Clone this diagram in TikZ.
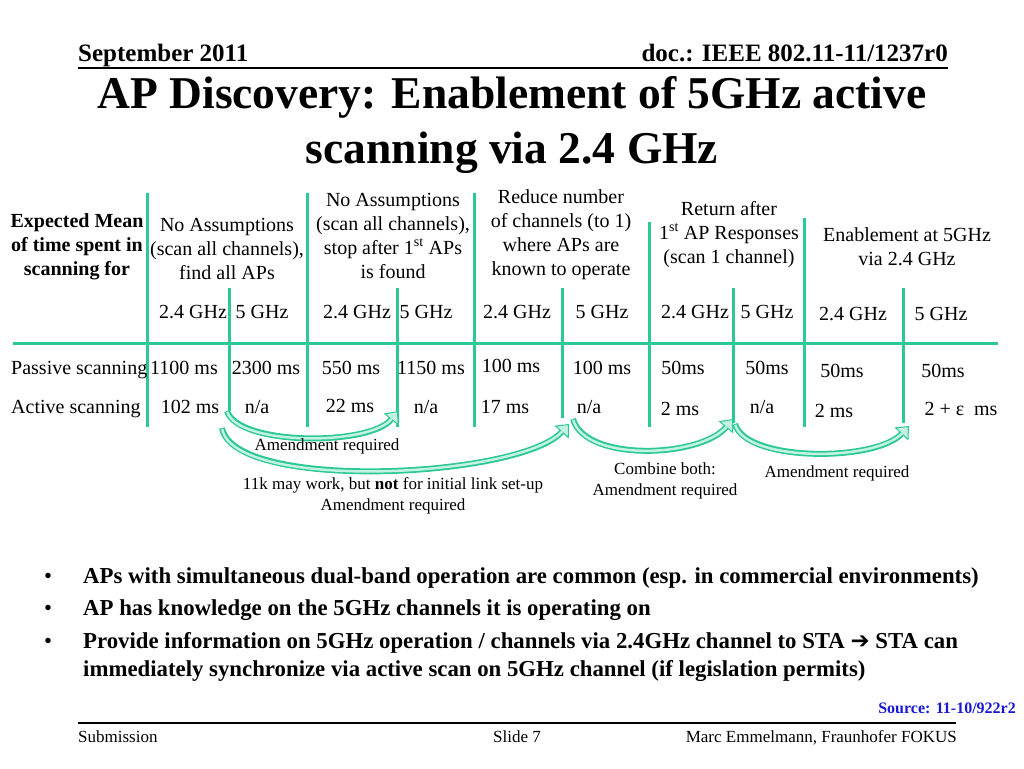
\documentclass[tikz,border=0pt]{standalone}
\usepackage{fontspec}
\setmainfont{Liberation Serif}
\newfontfamily\arrowfont{DejaVu Sans}
\usetikzlibrary{arrows.meta,positioning,calc}
\definecolor{scangreen}{RGB}{44,200,150}
\definecolor{mint}{RGB}{196,242,224}
\definecolor{srcblue}{RGB}{24,24,214}
\tikzset{
    gridline/.style={line width=3pt, scangreen},
    cell/.style={inner sep=0pt, anchor=base, font=\fontsize{20}{24}\selectfont},
    head/.style={cell, align=center},
    note/.style={inner sep=0pt, anchor=base, align=center, font=\fontsize{17}{21}\selectfont},
    band/.style={line width=6pt, scangreen, -{Triangle[length=11pt,width=19pt,fill=mint,line width=1pt]}},
    bandin/.style={line width=2.5pt, mint, shorten >=10pt, shorten <=1pt},
    slidetext/.style={inner sep=0pt, font=\fontsize{17}{20}\selectfont},
}

\begin{document}
\begin{tikzpicture}[x=1pt,y=-1pt]
    \useasboundingbox (0,0) rectangle (1024,768);

    % Slide header.
    \node[slidetext, anchor=base west, font=\bfseries\fontsize{25}{28}\selectfont] (date) at (78,62) {September 2011};
    \node[slidetext, anchor=base east, font=\bfseries\fontsize{25}{28}\selectfont] (doc) at (948,62) {doc.: IEEE 802.11-11/1237r0};
    \draw[line width=1.5pt] (78,68) -- (948,68);
    \node[inner sep=0pt, anchor=base, align=center, font=\bfseries\fontsize{45.5}{55}\selectfont] (title) at (512,163)
        {AP Discovery: Enablement of 5GHz active\\scanning via 2.4 GHz};

    % Draw table grid.
    \draw[gridline] (13,343) -- (998,343);
    \foreach \x/\t in {147/193, 307/193, 474/193, 649/222, 804/218}
        \draw[gridline] (\x,\t) -- (\x,427);
    \foreach \x/\b [count=\i] in {229/411, 397/427, 562/418, 733/423, 903/423}
        \draw[gridline] (\x,288) -- (\x,\b) coordinate (s\i);

    % Column headers (base is the last line).
    \node[head, font=\bfseries\fontsize{20}{24}\selectfont] (expect) at (77,275) {Expected Mean\\of time spent in\\scanning for};
    \node[head] (h1) at (227,279) {No Assumptions\\(scan all channels),\\find all APs};
    \node[head] (h2) at (393,278) {No Assumptions\\(scan all channels),\\stop after 1\textsuperscript{st} APs\\is found};
    \node[head] (h3) at (561,275) {Reduce number\\of channels (to 1)\\where APs are\\known to operate};
    \node[head] (h4) at (729,263) {Return after\\1\textsuperscript{st} AP Responses\\(scan 1 channel)};
    \node[head] (h5) at (907,265) {Enablement at 5GHz\\via 2.4 GHz};

    % Bands.
    \foreach \x/\y/\f [count=\i] in {193/318/2.4 GHz, 262/318/5 GHz, 357/318/2.4 GHz, 426/318/5 GHz,
        517/318/2.4 GHz, 602/318/5 GHz, 695/318/2.4 GHz, 767/318/5 GHz, 853/320/2.4 GHz, 941/320/5 GHz}
        \node[cell] (f\i) at (\x,\y) {\f};

    % Passive scanning row.
    \node[cell, anchor=base west] (passive) at (11,374) {Passive scanning};
    \foreach \x/\y/\v [count=\i] in {184/374/1100 ms, 266/374/2300 ms, 351/374/550 ms, 431/374/1150 ms,
        511/372/100 ms, 602/374/100 ms, 683/374/50ms, 767/374/50ms, 842/377/50ms, 943/377/50ms}
        \node[cell] (p\i) at (\x,\y) {\v};

    % Active scanning row.
    \node[cell, anchor=base west] (active) at (11,413) {Active scanning};
    \foreach \x/\y/\v [count=\i] in {190/413/102 ms, 257/413/{n/a}, 350/412/22 ms, 426/413/{n/a},
        505/413/17 ms, 589/413/{n/a}, 680/415/2 ms, 762/413/{n/a}, 834/417/2 ms, 961/415/2 + ε\ \ ms}
        \node[cell] (a\i) at (\x,\y) {\v};

    % Curved arrows between the columns.
    \coordinate (c1s) at (227,411);
    \coordinate (c1e) at (398,411);
    \coordinate (c2s) at (222,428);
    \coordinate (c2e) at (569,424);
    \coordinate (c3s) at (573,419);
    \coordinate (c3e) at (733,419);
    \coordinate (c4s) at (735,424);
    \coordinate (c4e) at (909,426);
    \draw[band] (c1s) .. controls (238,446) and (370,446) .. (c1e);
    \draw[bandin] (c1s) .. controls (238,446) and (370,446) .. (c1e);
    \draw[band] (c2s) .. controls (234,492) and (520,478) .. (c2e);
    \draw[bandin] (c2s) .. controls (234,492) and (520,478) .. (c2e);
    \draw[band] (c3s) .. controls (585,462) and (700,458) .. (c3e);
    \draw[bandin] (c3s) .. controls (585,462) and (700,458) .. (c3e);
    \draw[band] (c4s) .. controls (746,462) and (875,462) .. (c4e);
    \draw[bandin] (c4s) .. controls (746,462) and (875,462) .. (c4e);

    % Arrow notes.
    \node[note] (n1) at (327,450) {Amendment required};
    \node[note] (n2) at (393,510) {11k may work, but \textbf{not} for initial link set-up\\Amendment required};
    \node[note] (n3) at (665,495) {Combine both:\\Amendment required};
    \node[note] (n4) at (837,477) {Amendment required};

    % Bullet list.
    \foreach \d/\y/\t [count=\i] in {583/583/{APs with simultaneous dual-band operation are common (esp. in commercial environments)},
        615/615/{AP has knowledge on the 5GHz channels it is operating on},
        648/676/{Provide information on 5GHz operation / channels via 2.4GHz channel to STA {\arrowfont ➔} STA can\\immediately synchronize via active scan on 5GHz channel (if legislation permits)}}
    {
        \node[inner sep=0pt, anchor=base, font=\fontsize{22.8}{28}\selectfont] (dot\i) at (48,\d) {•};
        \node[inner sep=0pt, anchor=base west, align=left, font=\bfseries\fontsize{22.8}{28}\selectfont] (b\i) at (83,\y) {\t};
    }

    % Slide footer.
    \node[slidetext, anchor=base east, text=srcblue, font=\bfseries\fontsize{16}{18}\selectfont] (source) at (1016,713) {Source: 11-10/922r2};
    \draw[line width=1.5pt] (78,723) -- (956,723);
    \node[slidetext, anchor=base west] (sub) at (78,742) {Submission};
    \node[slidetext, anchor=base] (slide) at (517,742) {Slide 7};
    \node[slidetext, anchor=base east] (author) at (957,742) {Marc Emmelmann, Fraunhofer FOKUS};
\end{tikzpicture}
\end{document}
